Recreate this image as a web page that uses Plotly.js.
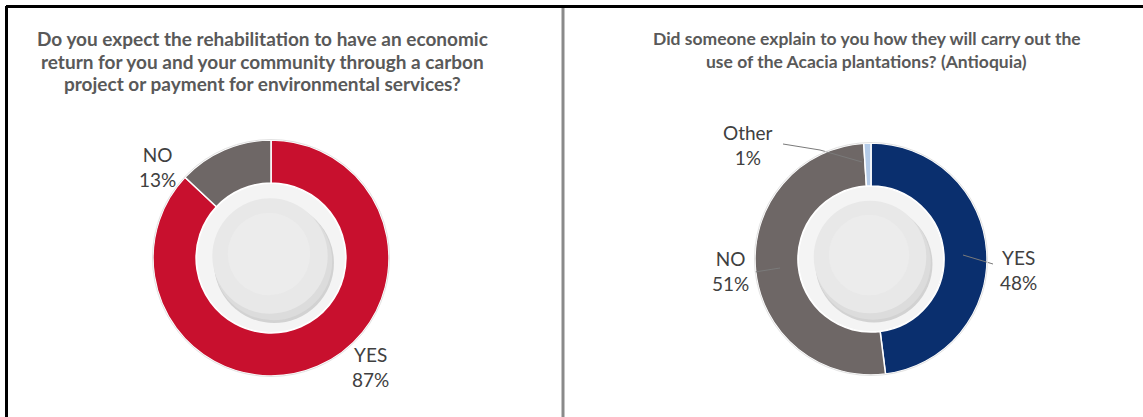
<!DOCTYPE html>
<html>
<head>
<meta charset="utf-8">
<script src="https://cdn.plot.ly/plotly-3.0.1.min.js"></script>
<style>html,body{margin:0;padding:0;background:#fff;}#chart{width:1143px;height:417px;}</style>
</head>
<body>
<div id="chart"></div>
<script>
// ---- data ----
const title1Lines = [
  "Do you expect the rehabilitation to have an economic",
  "return for you and your community through a carbon",
  "project or payment for environmental services?"
];
const labels1 = ["YES", "NO"];
const values1 = [87, 13];
const colors1 = ["#c8102e", "#6e6766"];

const title2Lines = [
  "Did someone explain to you how they will carry out the",
  "use of the Acacia plantations? (Antioquia)"
];
const labels2 = ["YES", "NO", "Other"];
const values2 = [48, 51, 1];
const colors2 = ["#0a2f6e", "#6e6766", "#b4cbe8"];

// ---- helpers for pixel -> paper ----
const W = 1143, H = 417;
const px = x => x / W;
const py = y => (H - y) / H;

function pieDomain(cx, cy, r) {
  return { x: [px(cx - r), px(cx + r)], y: [py(cy + r), py(cy - r)] };
}

const pie1 = { cx: 271, cy: 258, r: 118, hole: 0.635 };
const pie2 = { cx: 871, cy: 259, r: 116, hole: 0.63 };

const traces = [
  {
    type: "pie", labels: labels1, values: values1, sort: false,
    direction: "clockwise", rotation: 0, hole: pie1.hole,
    marker: { colors: colors1, line: { color: "#ffffff", width: 1.5 } },
    textinfo: "none", hoverinfo: "label+percent", showlegend: false,
    domain: pieDomain(pie1.cx, pie1.cy, pie1.r)
  },
  {
    type: "pie", labels: labels2, values: values2, sort: false,
    direction: "clockwise", rotation: 0, hole: pie2.hole,
    marker: { colors: colors2, line: { color: "#ffffff", width: 1.5 } },
    textinfo: "none", hoverinfo: "label+percent", showlegend: false,
    domain: pieDomain(pie2.cx, pie2.cy, pie2.r)
  }
];

function circle(cx, cy, r, fill, lineColor, lw) {
  return {
    type: "circle", xref: "paper", yref: "paper", layer: "above",
    x0: px(cx - r), x1: px(cx + r), y0: py(cy + r), y1: py(cy - r),
    fillcolor: fill, line: { color: lineColor || "rgba(0,0,0,0)", width: lw || 0 }
  };
}
function plate(p) {
  const ri = p.r * p.hole;
  return [
    circle(p.cx, p.cy, ri - 1, "#f4f4f4"),
    circle(p.cx + 3, p.cy + 5, ri * 0.80, "#d2d2d2"),
    circle(p.cx + 2, p.cy + 3, ri * 0.79, "#dcdcdc"),
    circle(p.cx - 1, p.cy - 2, ri * 0.77, "#e8e8e8"),
    circle(p.cx - 2, p.cy - 4, ri * 0.55, "#ececec"),
    circle(p.cx, p.cy, p.r + 0.5, "rgba(0,0,0,0)", "#e2e2e2", 1)
  ];
}
function line(x0, y0, x1, y1, color, w) {
  return { type: "line", xref: "paper", yref: "paper", layer: "above",
    x0: px(x0), y0: py(y0), x1: px(x1), y1: py(y1), line: { color: color, width: w } };
}

const shapes = [
  line(6, 6.5, 1143, 6.5, "#000000", 3),
  line(6.5, 6, 6.5, 417, "#000000", 3),
  line(563, 8, 563, 417, "#8a8a8a", 3),
  // leader lines (pie 2)
  line(783, 144, 820, 150, "#7a7a7a", 1),
  line(820, 150, 862, 162, "#7a7a7a", 1),
  line(755, 272, 780, 268, "#7a7a7a", 1),
  line(963, 255, 993, 264, "#7a7a7a", 1),
  ...plate(pie1),
  ...plate(pie2)
];

const labelFont = { family: "Lato, 'Open Sans', sans-serif", size: 19, color: "#404040" };
function lab(text, x, y) {
  return { text: text, xref: "paper", yref: "paper", x: px(x), y: py(y),
    xanchor: "center", yanchor: "middle", showarrow: false, font: labelFont, align: "center" };
}
function titleLine(text, x, y, size) {
  return { text: "<b>" + text + "</b>", xref: "paper", yref: "paper", x: px(x), y: py(y),
    xanchor: "center", yanchor: "middle", showarrow: false, align: "center",
    font: { family: "Lato, 'Open Sans', sans-serif", size: size, color: "#595959" } };
}
const fmt = (l, v) => l + "<br>" + v + "%";

const annotations = [
  ...title1Lines.map((t, i) => titleLine(t, 262, 39 + i * 22.5, 19)),
  ...title2Lines.map((t, i) => titleLine(t, 867, 39 + i * 23, 17.5)),
  lab(fmt(labels1[1], values1[1]), 157, 167),
  lab(fmt(labels1[0], values1[0]), 371, 367),
  lab(fmt(labels2[2], values2[2]), 748, 145),
  lab(fmt(labels2[1], values2[1]), 730, 271),
  lab(fmt(labels2[0], values2[0]), 1018, 270)
];

const layout = {
  width: W, height: H,
  margin: { l: 0, r: 0, t: 0, b: 0 },
  paper_bgcolor: "#ffffff",
  showlegend: false,
  shapes: shapes,
  annotations: annotations
};

Plotly.newPlot("chart", traces, layout, { displayModeBar: false, staticPlot: true });
</script>
</body>
</html>
